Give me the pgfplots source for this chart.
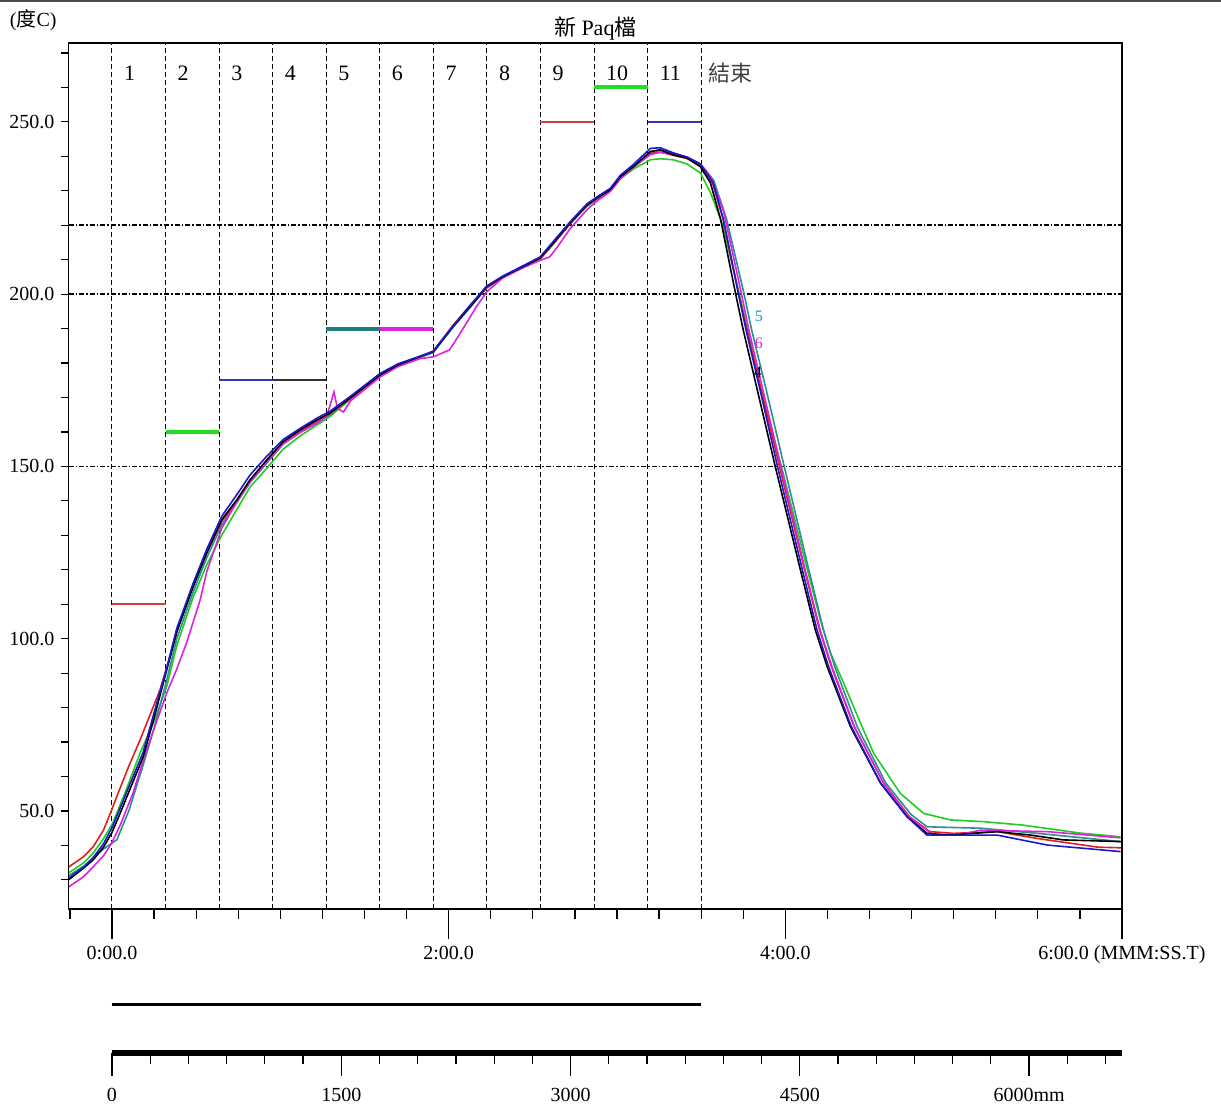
\documentclass[border=0pt]{standalone}
\usepackage{fontspec}
\setmainfont{Liberation Serif}
\newfontfamily\cjk{Noto Sans CJK TC}
\usepackage{pgfplots}
\pgfplotsset{compat=1.18}

\definecolor{cRed}{HTML}{E02020}
\definecolor{cGreen}{HTML}{22CC22}
\definecolor{cTeal}{HTML}{2A9090}
\definecolor{cBlue}{HTML}{1A1ACC}
\definecolor{cMag}{HTML}{DD22DD}
\definecolor{sRed}{HTML}{CC4040}
\definecolor{sGreen}{HTML}{22DD22}
\definecolor{sBlue}{HTML}{3535B5}
\definecolor{sTeal}{HTML}{1F7F7F}

\pgfplotsset{
  frame/.style={
    at={(34.25pt,101pt)}, anchor=south west,
    scale only axis, width=526.75pt, height=433pt,
    xmin=-15.5, xmax=360, ymin=21.55, ymax=272.9,
    axis line style={black, line width=0.7pt},
    tick style={black, line width=0.6pt},
    tick align=outside,
    tick label style={font=\fontsize{10}{12}\selectfont},
    clip=false,
  },
  trace/.style={line width=0.8pt},
}

\begin{document}
\begin{tikzpicture}
\path[use as bounding box] (0,0) rectangle (610.5pt,555.5pt);
\draw[black!70, line width=1pt] (0,555pt) -- (610.5pt,555pt);

% temperature axis, x ticks and data
\begin{axis}[frame,
  xtick={0,120,240,360},
  xticklabels={0:00.0,2:00.0,4:00.0,6:00.0 (MMM:SS.T)},
  minor xtick={-15,0,...,360},
  xtick pos=bottom, ytick=\empty,
  major tick length=15pt, minor tick length=5pt,
]
% zone borders and limit lines
\pgfplotsinvokeforeach{0,19.09,38.18,57.27,76.36,95.45,114.55,133.64,152.73,171.82,190.91,210}{
  \draw[black, line width=0.5pt, dash pattern=on 2.5pt off 1.5pt]
    (axis cs:#1,21.55) -- (axis cs:#1,272.9);
}
\pgfplotsinvokeforeach{150,200,220}{
  \draw[black, line width=0.75pt, dash pattern=on 2.5pt off 1pt on 0.8pt off 1pt]
    (axis cs:-15.5,#1) -- (axis cs:360,#1);
}

% zone set temperatures
\addplot[sRed, line width=1pt] coordinates {(0,110) (19.09,110)};
\addplot[sGreen, line width=2pt] coordinates {(19.09,160) (38.18,160)};
\addplot[sBlue, line width=1pt] coordinates {(38.18,175) (57.27,175)};
\addplot[black!80, line width=1pt] coordinates {(57.27,175) (76.36,175)};
\addplot[sTeal, line width=2pt] coordinates {(76.36,190) (95.45,190)};
\addplot[cMag, line width=2pt] coordinates {(95.45,190) (114.55,190)};
\addplot[sRed, line width=1pt] coordinates {(152.73,250) (171.82,250)};
\addplot[sGreen, line width=2pt] coordinates {(171.82,260) (190.91,260)};
\addplot[sBlue, line width=1pt] coordinates {(190.91,250) (210,250)};

% probes
\addplot[trace, cGreen] coordinates {
(-15.5,32.0)(-10,35.0)(-6.7,37.8)(-3,42.0)(0.3,46.5)(5,56.0)(10.0,66.8)(15,76.0)(19.5,86.1)(23.1,98.0)(28.9,112.0)(33.8,121.5)(39.1,130.0)(44.5,137.5)(49.2,144.0)(55.2,149.5)(61.0,155.0)(67.0,158.8)(73.0,162.0)(77.7,164.5)(84.9,169.5)(95.6,176.3)(102,179.2)(109.8,181.7)(114.5,183.0)(121.6,190.6)(127.7,196.6)(133.6,202.0)(139.4,205.0)(145.5,207.5)(152.6,210.3)(157.3,214.5)(163.3,220.5)(169.3,225.5)(172.8,227.5)(177.6,230.0)(181.2,233.5)(185.8,236.3)(191.9,239.0)(195.4,239.3)(200.1,239.0)(204.9,237.8)(209.7,235.2)(213.3,229.5)(217.5,220.5)(223.5,200.4)(226.5,189.6)(231.3,172.2)(238.6,150.0)(247.8,120.2)(252.5,105.4)(256.0,96.0)(260.8,87.1)(266.0,77.0)(271.5,66.7)(281.0,55.1)(289.3,49.3)(298.8,47.4)(310.6,46.9)(324.6,45.9)(344.9,43.6)(359.5,42.5)
};
\addplot[trace, cTeal] coordinates {
(-15.5,31.2)(-10,34.0)(-6.7,36.4)(-3,39.0)(1.7,41.6)(6,50.0)(11.1,63.3)(15,74.0)(19.5,88.0)(23.1,100.0)(28.9,113.5)(33.8,123.5)(39.1,133.0)(44.5,139.5)(49.2,145.3)(55.2,151.0)(61.0,156.5)(67.0,160.0)(73.0,163.0)(77.7,165.0)(84.9,169.5)(95.6,176.4)(102,179.3)(109.8,181.7)(114.5,183.1)(121.6,190.5)(127.7,196.2)(133.6,201.8)(139.4,204.8)(145.5,207.3)(152.6,210.2)(157.3,214.7)(163.3,220.4)(169.3,225.6)(172.8,227.6)(177.6,230.0)(181.2,233.8)(185.8,236.8)(191.9,241.0)(195.4,241.8)(200.1,240.8)(204.9,239.8)(209.7,237.8)(214.5,233.0)(219.0,222.0)(225.2,200.4)(228.0,189.6)(233.2,172.2)(239.6,150.0)(248.3,120.2)(253.6,102.5)(257.6,91.9)(265.6,74.5)(275.8,58.1)(284.8,49.0)(290.5,45.4)(309.5,45.0)(330,43.5)(359.5,41.1)
};
\addplot[trace, cRed] coordinates {
(-15.5,33.7)(-10,36.8)(-6.7,39.6)(-3,44.5)(-0.1,50.3)(2.2,55.2)(6,63.0)(10.0,70.6)(17.1,85.1)(20.7,94.8)(24,104.5)(28.9,115.5)(33.8,125.0)(39.1,134.0)(44.5,140.0)(49.2,145.8)(55.2,151.6)(61.0,156.8)(67.0,160.3)(73.0,163.2)(77.7,165.3)(84.9,169.7)(95.6,176.5)(102,179.4)(109.8,181.8)(114.5,183.5)(121.6,191.0)(127.7,196.8)(133.6,202.0)(139.4,205.0)(145.5,207.5)(152.6,210.3)(157.3,214.6)(163.3,220.5)(169.3,225.7)(172.8,227.8)(177.6,230.2)(181.2,233.9)(185.8,236.8)(191.9,240.8)(195.4,241.2)(200.1,240.3)(204.9,239.4)(209.7,237.3)(214.0,232.3)(217.8,221.8)(223.3,200.4)(226.3,189.6)(231.4,172.2)(237.9,150.0)(246.8,120.2)(252.2,102.5)(256.4,91.9)(264.5,74.5)(275.0,58.1)(284.3,48.3)(291.5,44.0)(300,43.5)(315.5,44.0)(330,42.0)(351.3,39.5)(360,39.3)
};
\addplot[trace, cMag] coordinates {
(-15.5,27.9)(-10,31.0)(-6.7,33.8)(-3,37.0)(-0.1,40.7)(3,46.0)(7.5,55.2)(12,67.0)(19.5,84.2)(23.0,91.0)(26.6,98.8)(31.4,111.2)(33.8,119.5)(39.1,132.0)(44.5,139.8)(49.2,145.5)(55.2,151.3)(61.0,156.5)(67.0,159.8)(73.0,162.5)(76.5,164.5)(77.8,167.9)(79.1,171.6)(80.4,166.8)(82.5,165.8)(85.0,169.0)(95.6,176.0)(102,179.0)(109.8,181.3)(114.5,181.8)(120.3,183.8)(124.0,188.5)(130.0,196.5)(133.6,200.7)(139.4,204.8)(145.5,207.3)(152.6,209.8)(156.0,210.8)(159.0,214.0)(163.3,219.0)(169.3,224.5)(172.8,227.0)(177.6,229.8)(181.2,233.5)(185.8,236.8)(191.9,240.5)(195.4,241.2)(200.1,240.5)(204.9,239.8)(209.7,237.8)(213.5,234.0)(218.0,224.0)(224.0,201.5)(227.0,189.6)(232.0,172.2)(238.4,150.0)(247.0,120.2)(252.4,102.5)(256.6,91.9)(264.6,74.5)(275.0,58.1)(284.0,48.3)(292.8,43.0)(303,43.3)(309.5,44.4)(333.4,44.0)(359.5,42.2)
};
\addplot[trace, black] coordinates {
(-15.5,30.0)(-10,33.5)(-6.7,35.8)(-3,39.5)(-0.1,43.6)(3,49.5)(6,55.5)(11.1,65.7)(15,77.0)(19.5,90.9)(23.1,102.0)(28.9,115.0)(33.8,124.9)(39.1,134.5)(44.5,140.3)(49.2,146.1)(55.2,151.9)(61.0,157.2)(67.0,160.6)(73.0,163.5)(77.7,165.5)(84.9,169.9)(95.6,176.6)(102,179.5)(109.8,181.9)(114.5,183.3)(121.6,190.6)(127.7,196.4)(133.6,202.2)(139.4,205.1)(145.5,207.6)(152.6,210.5)(157.3,214.9)(163.3,220.7)(169.3,225.9)(172.8,227.9)(177.6,230.3)(181.2,234.1)(185.8,237.0)(191.9,241.4)(195.4,241.9)(200.1,240.4)(204.9,239.5)(209.7,237.0)(213.3,232.3)(216.9,221.8)(222.2,200.4)(225.0,189.6)(230.0,172.2)(236.4,150.0)(245.3,120.2)(250.7,102.5)(254.9,91.9)(263.2,74.5)(273.9,58.1)(283.4,48.3)(290.5,43.5)(298.8,43.0)(315.5,44.0)(327.4,43.0)(339.1,41.6)(360,41.1)
};
\addplot[trace, cBlue] coordinates {
(-15.5,30.5)(-10,33.8)(-6.7,36.5)(-3,40.5)(-0.1,45.0)(3,51.0)(6,57.0)(11.1,67.0)(15,78.5)(19.5,91.5)(23.1,103.0)(28.9,116.0)(33.8,126.0)(39.1,135.5)(44.5,141.8)(49.2,147.5)(55.2,153.0)(61.0,157.8)(67.0,161.0)(73.0,164.0)(77.7,166.0)(84.9,170.3)(95.6,177.0)(102,179.8)(109.8,182.0)(114.5,183.4)(121.6,190.8)(127.7,196.8)(133.6,202.4)(139.4,205.3)(145.5,207.8)(152.6,210.8)(157.3,215.3)(163.3,221.0)(169.3,226.2)(172.8,228.2)(177.6,230.7)(181.2,234.5)(185.8,237.6)(191.9,242.3)(195.4,242.5)(200.1,241.0)(204.9,239.8)(209.7,237.8)(214.3,232.3)(217.9,221.8)(223.2,200.4)(226.0,189.6)(231.0,172.2)(237.2,150.0)(246.0,120.2)(251.3,102.5)(255.4,91.9)(263.5,74.5)(274.0,58.1)(283.4,48.3)(290.5,43.0)(303.5,43.0)(315.5,43.0)(333.4,40.1)(359.5,38.2)
};

% zone numbers
\pgfplotsinvokeforeach{1,...,11}{
  \node[anchor=west, inner sep=0pt, font=\fontsize{11}{13}\selectfont]
    at (axis cs:{(#1-1)*19.09+4.2},264.2) {#1};
}
\node[anchor=west, inner sep=0pt, font=\fontsize{11}{13}\selectfont\cjk, text=black!75]
  at (axis cs:212.6,264.2) {結束};

% probe numbers
\node[font=\fontsize{8}{9}\selectfont, text=cTeal!60!cyan!80!blue] at (axis cs:230.6,193.7) {5};
\node[font=\fontsize{8}{9}\selectfont, text=cMag] at (axis cs:230.6,185.8) {6};
\node[font=\fontsize{8}{9}\selectfont, text=black!80!blue] at (axis cs:230.2,177.4) {4};

% title and unit
\node[anchor=base, inner sep=0pt, font=\fontsize{11}{13}\selectfont]
  at (rel axis cs:0.5,1) [yshift=3.5pt] {{\cjk 新} Paq{\cjk 檔}};
\node[anchor=base west, inner sep=0pt, font=\fontsize{10}{12}\selectfont]
  at (rel axis cs:0,1) [xshift=-29.5pt, yshift=8pt] {({\cjk 度}C)};
\end{axis}

% temperature ticks on the left
\begin{axis}[frame,
  xtick=\empty,
  ytick={50,100,150,200,250},
  yticklabels={50.0,100.0,150.0,200.0,250.0},
  minor ytick={30,40,...,270},
  ytick pos=left,
  major tick length=3.5pt, minor tick length=3.5pt,
]
\end{axis}

% conveyor distance scale
\begin{axis}[
  at={(34.25pt,29pt)}, anchor=south west,
  scale only axis, width=526.75pt, height=24pt,
  xmin=-284.6, xmax=6608, ymin=0, ymax=1,
  axis x line*=bottom, axis y line=none,
  x axis line style={draw=none},
  xtick={0,1500,3000,4500,6000},
  xticklabels={0,1500,3000,4500,6000mm},
  minor xtick={250,500,...,6500},
  tick align=outside,
  tick style={black, line width=0.6pt},
  major tick length=11.5pt, minor tick length=5.5pt,
  tick label style={font=\fontsize{10}{12}\selectfont},
  xticklabel style={yshift=-2.5pt},
  clip=false,
]
\addplot[black, line width=3pt] coordinates {(0,0) (6608,0)};
\addplot[black, line width=1.5pt] coordinates {(0,1) (3854,1)};
\end{axis}
\end{tikzpicture}
\end{document}
